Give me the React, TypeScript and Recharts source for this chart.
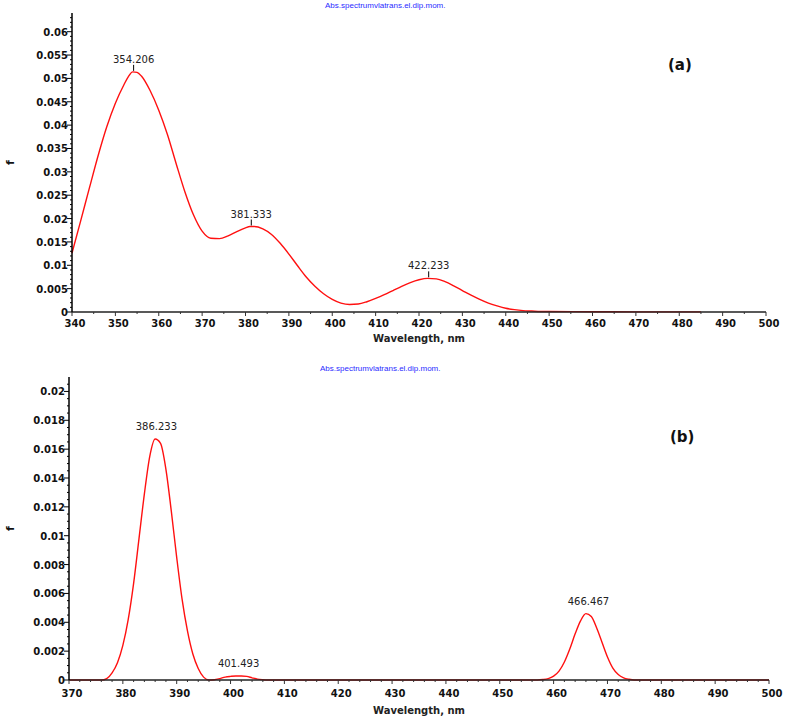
import { LineChart, Line, XAxis, YAxis, ReferenceDot } from "recharts";

// ---- (a) spectrum ----
const wavelengthA = [
  340, 342, 344, 346, 348, 350, 352, 353, 354, 355, 356, 358, 360, 362, 364, 366, 368, 370,
  372, 374, 376, 378, 380, 381, 382, 384, 386, 388, 390, 392, 394, 396, 398, 400, 402, 404,
  406, 408, 410, 412, 414, 416, 418, 420, 422, 424, 426, 428, 430, 432, 434, 436, 438, 440,
  442, 444, 446, 448, 450, 460, 470, 485,
];
const fA = [
  0.0126, 0.0195, 0.0265, 0.0334, 0.0396, 0.0447, 0.0487, 0.0504, 0.0514, 0.0513, 0.0505,
  0.0474, 0.0432, 0.038, 0.0318, 0.0258, 0.0208, 0.0173, 0.0158, 0.0157, 0.0163, 0.0172, 0.018,
  0.0183, 0.0183, 0.0178, 0.0166, 0.0147, 0.0124, 0.0099, 0.0075, 0.0055, 0.0039, 0.0027,
  0.0019, 0.0016, 0.0017, 0.0022, 0.0029, 0.0037, 0.0046, 0.0055, 0.0063, 0.0069, 0.0072,
  0.0071, 0.0065, 0.0056, 0.0046, 0.0036, 0.0027, 0.0019, 0.0013, 0.0008, 0.0005, 0.0003,
  0.0002, 0.0001, 0.0001, 0.00005, 0.00003, 0.00002,
];
const peaksA = [
  { x: 354.206, f: 0.0514, label: "354.206" },
  { x: 381.333, f: 0.0183, label: "381.333" },
  { x: 422.233, f: 0.0072, label: "422.233" },
];
const xLabelsA = [340, 350, 360, 370, 380, 390, 400, 410, 420, 430, 440, 450, 460, 470, 480, 490, 500];
const yLabelsA = [0, 0.005, 0.01, 0.015, 0.02, 0.025, 0.03, 0.035, 0.04, 0.045, 0.05, 0.055, 0.06];

// ---- (b) spectrum ----
const wavelengthB = [
  370, 375, 376, 377, 378, 379, 380, 381, 382, 383, 384, 385, 386, 387, 388, 389, 390, 391,
  392, 393, 394, 395, 396, 397, 398, 399, 400, 401, 402, 403, 404, 405, 406, 407, 420, 440,
  457, 458, 459, 460, 461, 462, 463, 464, 465, 466, 467, 468, 469, 470, 471, 472, 473, 474,
  475, 480, 500,
];
const fB = [
  0, 0, 0, 0.0001, 0.0005, 0.0012, 0.0024, 0.0042, 0.0067, 0.0098, 0.0129, 0.0155, 0.0167,
  0.0164, 0.0146, 0.0117, 0.0085, 0.0056, 0.0034, 0.0018, 0.0008, 0.0002, 0, 0.00002, 0.0001,
  0.0002, 0.00025, 0.00028, 0.00028, 0.00025, 0.00015, 0.00006, 0.00002, 0, 0, 0,
  0, 0.00003, 0.0001, 0.00027, 0.00062, 0.00125, 0.00215, 0.0032, 0.0041, 0.0046, 0.0044,
  0.0036, 0.0026, 0.0016, 0.00083, 0.00038, 0.00015, 0.00005, 0, 0, 0,
];
const peaksB = [
  { x: 386.233, f: 0.0167, label: "386.233" },
  { x: 401.493, f: 0.00028, label: "401.493" },
  { x: 466.467, f: 0.0046, label: "466.467" },
];
const xLabelsB = [370, 380, 390, 400, 410, 420, 430, 440, 450, 460, 470, 480, 490, 500];
const yLabelsB = [0, 0.002, 0.004, 0.006, 0.008, 0.01, 0.012, 0.014, 0.016, 0.018, 0.02];

const dataA = wavelengthA.map((w, i) => ({ w, f: fA[i] }));
const dataB = wavelengthB.map((w, i) => ({ w, f: fB[i] }));

// tick positions incl. minor ones
function steps(from: number, to: number, step: number) {
  const out: number[] = [];
  for (let v = from; v <= to + step / 2; v += step) out.push(Math.round(v * 1e5) / 1e5);
  return out;
}

const isMajor = (v: number, list: number[]) => list.some((l) => Math.abs(l - v) < 1e-7);

const TICK_FONT = "'DejaVu Sans', sans-serif";
const RED = "#ff1010";

function makeYTick(labels: number[]) {
  return (props: any) => {
    const { x, y, payload } = props;
    const major = isMajor(payload.value, labels);
    return (
      <g>
        <line x1={x - (major ? 5 : 2)} x2={x} y1={y} y2={y} stroke="#000" strokeWidth={1} />
        {major && (
          <text x={x - 4} y={y} dy={4} textAnchor="end" fontFamily={TICK_FONT} fontWeight="bold" fontSize={10} fill="#111">
            {String(payload.value)}
          </text>
        )}
      </g>
    );
  };
}

function makeXTick(labels: number[], dy: number) {
  return (props: any) => {
    const { x, y, payload } = props;
    const major = isMajor(payload.value, labels);
    return (
      <g>
        <line x1={x} x2={x} y1={y} y2={y + (major ? 4 : 2)} stroke="#333" strokeWidth={1} />
        {major && (
          <text x={x + 3} y={y + dy} textAnchor="middle" fontFamily={TICK_FONT} fontWeight="bold" fontSize={10} fill="#111">
            {payload.value}
          </text>
        )}
      </g>
    );
  };
}

function makePeak(label: string, withTick: boolean) {
  return (props: any) => {
    const { cx, cy } = props;
    return (
      <g>
        {withTick && <line x1={cx} x2={cx} y1={cy - 7} y2={cy - 1} stroke="#000" strokeWidth={1} />}
        <text x={cx} y={cy - 9} textAnchor="middle" fontFamily={TICK_FONT} fontSize={10} fill="#222">
          {label}
        </text>
      </g>
    );
  };
}

const titleStyle: React.CSSProperties = {
  position: "absolute",
  fontFamily: "'Liberation Sans', Arial, sans-serif",
  fontSize: 8,
  color: "#2b2bff",
  whiteSpace: "nowrap",
  lineHeight: "9px",
};
const tagStyle: React.CSSProperties = {
  position: "absolute",
  fontFamily: TICK_FONT,
  fontWeight: "bold",
  fontSize: 15,
  color: "#111",
  lineHeight: "18px",
};

export default function App() {
  return (
    <div style={{ position: "absolute", left: 0, top: 0, width: 787, height: 718, background: "#fff" }}>
      <div style={{ position: "absolute", left: 0, top: 0 }}>
        <LineChart width={787} height={360} data={dataA} margin={{ top: 13, right: 21, left: 0, bottom: 18 }}>
          <XAxis
            dataKey="w"
            type="number"
            domain={[340, 500]}
            ticks={steps(340, 500, 5)}
            interval={0}
            tickSize={0}
            tickMargin={0}
            tickLine={false}
            height={30}
            axisLine={{ stroke: "#222", strokeWidth: 1.5 }}
            tick={makeXTick(xLabelsA, 15)}
            label={{ value: "Wavelength, nm", position: "insideBottom", offset: 0, fontFamily: TICK_FONT, fontWeight: "bold", fontSize: 10, fill: "#222" }}
          />
          <YAxis
            type="number"
            domain={[0, 0.064]}
            ticks={steps(0, 0.063, 0.001)}
            interval={0}
            width={72}
            tickSize={0}
            tickMargin={0}
            tickLine={false}
            axisLine={{ stroke: "#000", strokeWidth: 1.5 }}
            tick={makeYTick(yLabelsA)}
            label={{ value: "f", angle: -90, position: "insideLeft", offset: 10, fontFamily: TICK_FONT, fontWeight: "bold", fontSize: 11, fill: "#111", style: { textAnchor: "middle" } }}
          />
          <Line type="monotone" dataKey="f" stroke={RED} strokeWidth={1.4} dot={false} isAnimationActive={false} />
          {peaksA.map((p) => (
            <ReferenceDot key={p.label} x={p.x} y={p.f} r={0} shape={makePeak(p.label, true)} />
          ))}
        </LineChart>
      </div>
      <div style={{ ...titleStyle, left: 325, top: 1 }}>Abs.spectrumvlatrans.el.dip.mom.</div>
      <div style={{ ...tagStyle, left: 668, top: 56 }}>(a)</div>

      <div style={{ position: "absolute", left: 0, top: 360 }}>
        <LineChart width={787} height={358} data={dataB} margin={{ top: 17, right: 18, left: 0, bottom: 8 }}>
          <XAxis
            dataKey="w"
            type="number"
            domain={[370, 500]}
            ticks={steps(370, 500, 2)}
            interval={0}
            tickSize={0}
            tickMargin={0}
            tickLine={false}
            height={30}
            axisLine={{ stroke: "#222", strokeWidth: 1.5 }}
            tick={makeXTick(xLabelsB, 17)}
            label={{ value: "Wavelength, nm", position: "insideBottom", offset: -4, fontFamily: TICK_FONT, fontWeight: "bold", fontSize: 10, fill: "#222" }}
          />
          <YAxis
            type="number"
            domain={[0, 0.021]}
            ticks={steps(0, 0.0205, 0.0005)}
            interval={0}
            width={69}
            tickSize={0}
            tickMargin={0}
            tickLine={false}
            axisLine={{ stroke: "#000", strokeWidth: 1.5 }}
            tick={makeYTick(yLabelsB)}
            label={{ value: "f", angle: -90, position: "insideLeft", offset: 10, fontFamily: TICK_FONT, fontWeight: "bold", fontSize: 11, fill: "#111", style: { textAnchor: "middle" } }}
          />
          <Line type="monotone" dataKey="f" stroke={RED} strokeWidth={1.4} dot={false} isAnimationActive={false} />
          {peaksB.map((p) => (
            <ReferenceDot key={p.label} x={p.x} y={p.f} r={0} shape={makePeak(p.label, false)} />
          ))}
        </LineChart>
      </div>
      <div style={{ ...titleStyle, left: 320, top: 364 }}>Abs.spectrumvlatrans.el.dip.mom.</div>
      <div style={{ ...tagStyle, left: 670, top: 428 }}>(b)</div>
    </div>
  );
}
